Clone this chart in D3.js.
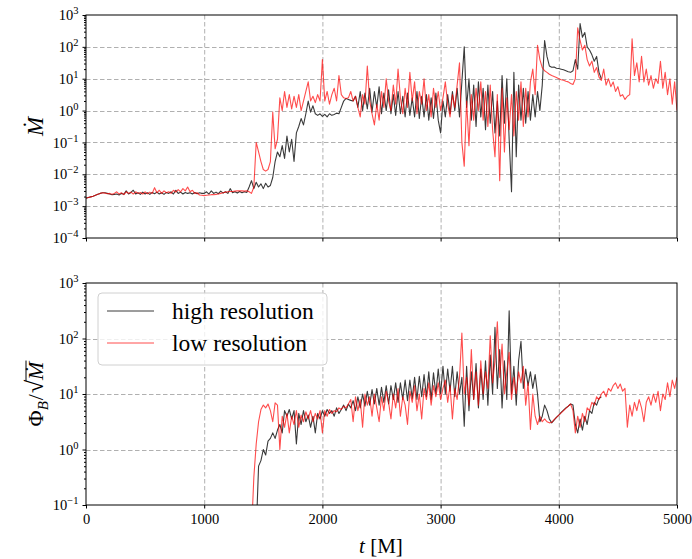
<!DOCTYPE html>
<html>
<head>
<meta charset="utf-8">
<script src="https://cdn.jsdelivr.net/npm/d3@7"></script>
<style>
  html, body { margin: 0; padding: 0; background: #fff; }
  svg { display: block; font-family: "Liberation Serif", "DejaVu Serif", serif; }
</style>
</head>
<body>
<svg id="chart" width="692" height="559"></svg>
<script>
/* ---------- data (log10 of the plotted values, sampled every STEP in t) ---------- */
const STEP = 20;

// top panel: accretion rate, high resolution, t = 0 .. 4360
const mdotHighStart = 0;
const mdotHighLog = [
  -2.75,-2.73,-2.71,-2.69,-2.66,-2.63,-2.6,-2.58,-2.58,-2.6,-2.62,-2.64,-2.63,-2.62,-2.65,-2.6,-2.63,-2.52,-2.62,-2.57,
  -2.5,-2.62,-2.58,-2.63,-2.56,-2.62,-2.58,-2.63,-2.57,-2.61,-2.56,-2.62,-2.58,-2.63,-2.57,-2.6,-2.55,-2.62,-2.5,-2.6,
  -2.56,-2.62,-2.57,-2.6,-2.58,-2.62,-2.57,-2.61,-2.58,-2.6,-2.6,-2.55,-2.62,-2.52,-2.6,-2.56,-2.61,-2.53,-2.59,-2.55,
  -2.6,-2.45,-2.58,-2.55,-2.59,-2.54,-2.58,-2.55,-2.57,-2.4,-2.2,-2.45,-2.25,-2.4,-2.3,-2.45,-2.28,-2.4,-2.35,-2.1,
  -1.6,-1.3,-1.45,-1.1,-1.5,-0.8,-1.3,-0.9,-1.6,-0.7,-0.5,-0.25,-0.45,-0.1,0.3,-0.05,0.15,-0.1,-0.15,-0.1,
  -0.18,-0.12,-0.2,-0.1,-0.15,-0.12,-0.08,-0.1,0.1,0.3,0.38,0.35,0.32,0.3,0.45,0.1,0.6,0.0,0.55,0.05,
  0.7,-0.05,0.6,0.1,0.75,-0.1,0.55,0.0,0.65,-0.1,0.5,-0.15,0.6,-0.1,0.45,-0.2,0.55,-0.15,0.4,-0.2,
  0.6,-0.25,0.45,-0.2,0.5,-0.3,0.4,-0.25,0.55,-0.3,-0.7,0.3,-0.2,0.5,-0.1,0.6,0.0,0.7,-0.2,0.9,
  2.0,0.1,1.0,-0.3,0.8,-0.5,0.9,-0.2,0.7,-0.6,0.8,-0.4,0.6,-0.7,0.3,-0.8,1.1,-0.4,1.0,-0.9,
  -2.55,1.2,-1.45,0.8,-0.3,0.7,-0.4,0.6,-0.3,0.5,-0.2,0.6,0.0,0.8,2.2,1.7,1.4,1.36,1.37,1.33,
  1.32,1.3,1.28,1.25,1.22,1.2,1.25,1.6,1.3,2.73,2.3,2.45,2.0,1.9,1.75,1.55,1.7,1.2,1.0
];

// top panel: accretion rate, low resolution, t = 0 .. 5000
const mdotLowStart = 0;
const mdotLowLog = [
  -2.75,-2.73,-2.71,-2.69,-2.66,-2.63,-2.6,-2.58,-2.59,-2.61,-2.6,-2.63,-2.6,-2.55,-2.62,-2.58,-2.64,-2.55,-2.6,-2.56,
  -2.62,-2.55,-2.6,-2.57,-2.62,-2.55,-2.61,-2.56,-2.6,-2.42,-2.58,-2.5,-2.6,-2.52,-2.58,-2.55,-2.6,-2.5,-2.56,-2.48,
  -2.55,-2.45,-2.52,-2.4,-2.55,-2.5,-2.6,-2.58,-2.65,-2.66,-2.67,-2.66,-2.65,-2.64,-2.64,-2.63,-2.62,-2.6,-2.58,-2.56,
  -2.55,-2.54,-2.54,-2.53,-2.52,-2.52,-2.52,-2.53,-2.52,-2.55,-2.6,-2.4,-1.0,-1.3,-1.6,-1.85,-1.9,-1.85,-1.6,-0.05,
  -1.2,-0.9,0.4,0.0,0.6,0.1,0.5,0.05,0.45,0.1,0.5,0.0,0.3,0.6,0.9,0.3,0.45,0.25,0.5,0.3,
  1.6,0.3,0.6,0.2,0.5,0.7,0.3,1.1,0.5,0.4,0.38,0.4,0.6,0.3,0.45,0.1,-0.2,0.5,0.2,1.4,
  0.3,-0.1,-0.45,0.2,-0.3,0.6,0.1,1.0,0.3,0.0,0.8,0.2,1.3,0.4,-0.1,0.7,0.1,1.2,0.3,0.9,
  -0.1,0.6,0.2,1.0,0.0,0.5,-0.2,0.7,0.1,0.6,0.0,0.4,0.9,0.2,-0.2,0.5,0.1,0.8,1.5,-1.0,
  -1.75,0.3,-1.1,0.5,-0.3,0.7,0.0,0.9,-0.3,0.6,-0.5,0.8,-0.6,-1.45,0.5,-2.2,0.7,-1.3,0.4,-0.6,
  0.5,-0.8,0.6,-0.3,0.9,-0.5,0.7,-0.2,0.9,1.3,0.5,2.05,1.6,1.35,1.25,1.2,1.14,1.1,1.07,1.04,
  1.0,0.97,0.95,0.92,0.9,0.85,0.82,1.0,2.6,2.2,1.9,2.05,1.6,1.4,1.55,1.2,1.35,1.05,0.95,1.3,
  0.8,1.0,0.75,0.9,0.6,0.75,0.45,0.5,0.35,0.45,0.5,2.25,1.1,1.5,0.9,1.7,0.9,1.3,0.8,1.1,
  0.7,1.0,0.85,1.55,0.7,1.2,0.5,1.0,0.2,0.9,0.0
];

// bottom panel: flux / sqrt(mdot), high resolution, t = 1440 .. 4360
const phiHighStart = 1440;
const phiHighLog = [
  -1.5,-0.3,-0.2,0.0,-0.1,0.15,0.2,0.3,0.2,0.35,0.45,0.3,0.7,0.6,0.72,0.55,0.7,0.1,0.65,0.45,
  0.7,0.5,0.62,0.4,0.6,0.3,0.65,0.55,0.7,0.6,0.72,0.65,0.7,0.6,0.75,0.65,0.72,0.8,0.7,0.82,
  0.75,0.88,0.7,0.95,0.75,1.0,0.78,1.05,0.8,1.08,0.82,1.1,0.8,1.12,0.85,1.15,0.82,1.15,0.9,1.2,
  0.85,1.2,0.9,1.25,0.88,1.25,0.92,1.3,0.9,1.32,0.95,1.35,0.95,1.4,0.9,1.38,1.0,1.45,1.0,1.5,
  1.0,1.45,1.05,1.5,0.95,1.4,1.0,1.3,0.42,1.5,0.7,1.4,0.9,1.55,0.75,1.45,0.9,1.6,0.8,1.7,
  1.0,2.2,1.1,1.8,0.75,1.6,0.9,2.5,1.0,1.5,0.8,1.6,1.95,1.1,1.45,1.15,1.4,1.1,1.35,1.0,
  0.5,0.6,0.8,0.7,0.55,0.48,0.53,0.58,0.62,0.67,0.71,0.75,0.78,0.82,0.8,0.45,0.3,0.55,0.35,0.6,
  0.45,0.7,0.65,0.85,0.8,0.92,0.95
];

// bottom panel: flux / sqrt(mdot), low resolution, t = 1400 .. 5000
const phiLowStart = 1400;
const phiLowLog = [
  -1.5,-0.5,0.1,0.5,0.72,0.8,0.75,0.82,0.7,0.5,0.84,0.8,0.0,0.6,0.4,0.65,0.3,0.6,0.45,0.7,
  0.4,0.62,0.5,0.68,0.55,0.7,0.5,0.65,0.55,0.7,0.3,0.7,0.6,0.72,0.65,0.7,0.68,0.75,0.72,0.78,
  0.75,0.82,0.9,0.5,0.95,0.7,0.9,0.4,1.0,0.8,0.95,0.6,1.0,0.75,0.5,0.95,0.7,1.05,0.85,0.55,
  1.0,0.75,1.1,0.6,0.95,0.8,0.45,1.05,0.85,1.15,0.7,1.0,0.55,1.1,0.9,1.2,0.8,1.15,0.95,1.2,
  0.9,1.1,1.25,0.85,1.15,0.55,1.1,0.9,1.3,2.1,1.0,1.3,0.8,1.8,0.9,1.4,0.8,1.6,1.0,1.4,
  1.1,2.05,1.2,1.6,2.3,1.3,1.9,1.0,1.4,1.75,0.9,1.3,1.0,1.4,1.2,1.5,0.8,1.2,0.36,1.0,
  0.6,0.45,0.6,0.5,0.55,0.5,0.48,0.49,0.54,0.58,0.62,0.66,0.7,0.74,0.78,0.82,0.7,0.3,0.6,0.4,
  0.65,0.5,0.75,0.7,0.85,0.8,0.95,0.9,1.0,1.05,0.95,1.1,1.05,1.15,1.2,1.1,1.18,1.05,1.1,0.4,
  0.8,0.6,0.85,0.7,0.9,0.75,0.5,0.85,0.95,0.8,1.0,0.85,1.05,0.7,1.0,0.9,1.2,0.95,1.25,1.1,
  1.3
];

const xTicks = [0, 1000, 2000, 3000, 4000, 5000];
const topDecades = [-4, -3, -2, -1, 0, 1, 2, 3];
const bottomDecades = [-1, 0, 1, 2, 3];
const seriesNames = ['high resolution', 'low resolution'];
const seriesColors = ['#3a3a3a', 'rgba(255,0,0,0.7)'];

/* ---------- layout ---------- */
const svg = d3.select('#chart');
const plotL = 86, plotR = 677;
const panels = [
  { top: 15, bottom: 238, decades: topDecades, high: [mdotHighStart, mdotHighLog], low: [mdotLowStart, mdotLowLog], xLabels: false },
  { top: 283, bottom: 505, decades: bottomDecades, high: [phiHighStart, phiHighLog], low: [phiLowStart, phiLowLog], xLabels: true },
];

const x = d3.scaleLinear().domain([0, 5000]).range([plotL, plotR]);

function toPoints(start, logs) {
  return logs.map((v, i) => ({ t: start + i * STEP, v: Math.pow(10, v) }));
}

function supLabel(sel, exp) {
  sel.text(null);
  sel.append('tspan').text('10');
  sel.append('tspan').attr('dy', -6).attr('font-size', '10.5px').text(String(exp).replace('-', '\u2212'));
}

panels.forEach((p, k) => {
  const d0 = p.decades[0], d1 = p.decades[p.decades.length - 1];
  const y = d3.scaleLog().domain([Math.pow(10, d0), Math.pow(10, d1)]).range([p.bottom, p.top]);
  const g = svg.append('g');

  const clipId = 'clip' + k;
  svg.append('clipPath').attr('id', clipId)
    .append('rect').attr('x', plotL).attr('y', p.top).attr('width', plotR - plotL).attr('height', p.bottom - p.top);

  // grid
  const grid = g.append('g').attr('stroke', '#b0b0b0').attr('stroke-width', 1).attr('stroke-dasharray', '4.5,2.5');
  grid.selectAll('line.gx').data(xTicks.slice(1, -1)).join('line')
    .attr('x1', d => x(d) + 0.5).attr('x2', d => x(d) + 0.5).attr('y1', p.top).attr('y2', p.bottom);
  grid.selectAll('line.gy').data(p.decades.slice(1, -1)).join('line')
    .attr('x1', plotL).attr('x2', plotR).attr('y1', d => Math.round(y(Math.pow(10, d))) + 0.5).attr('y2', d => Math.round(y(Math.pow(10, d))) + 0.5);

  // series
  const line = d3.line().x(d => x(d.t)).y(d => y(d.v));
  const lines = g.append('g').attr('clip-path', `url(#${clipId})`).attr('fill', 'none').attr('stroke-width', 1.1).attr('stroke-linejoin', 'round');
  lines.append('path').datum(toPoints(p.high[0], p.high[1])).attr('stroke', seriesColors[0]).attr('d', line);
  lines.append('path').datum(toPoints(p.low[0], p.low[1])).attr('stroke', seriesColors[1]).attr('d', line);

  // y axis with major + minor log ticks
  const majors = p.decades.map(d => Math.pow(10, d));
  const minors = [];
  for (let d = d0; d < d1; d++) for (let m = 2; m <= 9; m++) minors.push(m * Math.pow(10, d));

  const yAx = g.append('g').attr('transform', `translate(${plotL},0)`)
    .call(d3.axisLeft(y).tickValues(majors).tickSize(3.5).tickPadding(4).tickFormat(''))
    .attr('font-family', null).attr('font-size', null);
  yAx.select('.domain').remove();
  yAx.selectAll('.tick text').each(function (d) {
    supLabel(d3.select(this), Math.round(Math.log10(d)));
  }).attr('font-size', '14.5px').attr('fill', '#000');
  g.append('g').attr('transform', `translate(${plotL},0)`)
    .call(d3.axisLeft(y).tickValues(minors).tickSize(2).tickFormat(''))
    .call(a => a.select('.domain').remove());

  // x axis
  const xAx = g.append('g').attr('transform', `translate(0,${p.bottom})`)
    .call(d3.axisBottom(x).tickValues(xTicks).tickSize(3.5).tickPadding(5).tickFormat(p.xLabels ? d3.format('d') : ''))
    .attr('font-family', null).attr('font-size', null);
  xAx.select('.domain').remove();
  xAx.selectAll('.tick text').attr('font-size', '14.5px').attr('fill', '#000');

  // frame
  g.append('rect').attr('x', plotL).attr('y', p.top).attr('width', plotR - plotL).attr('height', p.bottom - p.top)
    .attr('fill', 'none').attr('stroke', '#000').attr('stroke-width', 1);

  p.y = y;
});

/* ---------- axis labels ---------- */
// top: Mdot
svg.append('text')
  .attr('transform', `translate(43,${(15 + 238) / 2}) rotate(-90)`)
  .attr('text-anchor', 'middle').attr('font-size', '23px').attr('font-style', 'italic')
  .text('M\u0307');

// bottom: Phi_B / sqrt(Mdot), pieced together so the radical can get its bar
(function () {
  const lg = svg.append('g').attr('transform', `translate(43,${(283 + 505) / 2}) rotate(-90)`);
  const parts = lg.append('g');
  let cx = 0;
  function put(str, opts = {}) {
    const t = parts.append('text').attr('x', cx).attr('y', opts.dy || 0)
      .attr('font-size', (opts.size || 22) + 'px').text(str);
    if (opts.italic) t.attr('font-style', 'italic');
    const w = t.node().getComputedTextLength();
    const out = { x: cx, w };
    cx += w + (opts.gap || 0);
    return out;
  }
  put('\u03A6');
  put('B', { italic: true, size: 15, dy: 5, gap: 1 });
  put('/', { gap: 1 });
  const rad = put('\u221A', { size: 24 });
  const m = put('M\u0307', { italic: true });
  parts.append('line').attr('x1', rad.x + rad.w - 1).attr('x2', m.x + m.w + 1)
    .attr('y1', -17).attr('y2', -17).attr('stroke', '#000').attr('stroke-width', 1);
  parts.attr('transform', `translate(${-cx / 2},0)`);
})();

// x label
svg.append('text').attr('x', 381).attr('y', 553).attr('text-anchor', 'middle').attr('font-size', '21px')
  .call(t => {
    t.append('tspan').attr('font-style', 'italic').text('t');
    t.append('tspan').text(' [M]');
  });

/* ---------- legend ---------- */
const leg = svg.append('g').attr('transform', 'translate(98,293)');
leg.append('rect').attr('width', 229).attr('height', 72).attr('rx', 4)
  .attr('fill', 'rgba(255,255,255,0.8)').attr('stroke', '#d0d0d0').attr('stroke-width', 1);
seriesNames.forEach((name, i) => {
  const yy = 18 + i * 32;
  leg.append('line').attr('x1', 9).attr('x2', 56).attr('y1', yy).attr('y2', yy)
    .attr('stroke', seriesColors[i]).attr('stroke-width', 1);
  leg.append('text').attr('x', 74).attr('y', yy + 8).attr('font-size', '23.5px').text(name);
});
</script>
</body>
</html>
